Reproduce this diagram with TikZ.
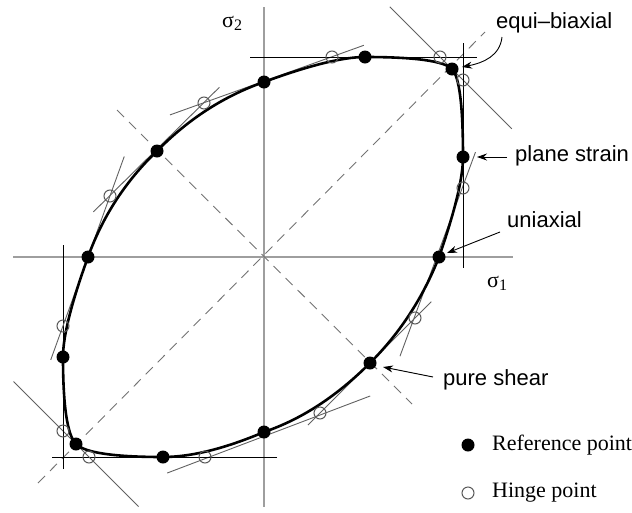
\documentclass[tikz,border=0pt]{standalone}
\usepackage{fontspec}
\setmainfont{Liberation Serif}
\newfontfamily\labfont{Liberation Sans}
\usetikzlibrary{arrows.meta,calc}
\newcommand\sigsub[1]{σ\raisebox{-0.35ex}{\fontsize{16}{16}\selectfont #1}}
\tikzset{
  axisline/.style={draw=black!38, line width=1.6pt},
  diagline/.style={draw=black!55, line width=0.9pt, dash pattern=on 10pt off 7pt},
  tanline/.style={draw=black, line width=0.7pt},
  tangray/.style={draw=black!62, line width=0.9pt},
  yieldcurve/.style={draw=black, line width=2.6pt, line join=round},
  refpt/.style={circle, fill=black, inner sep=0pt, minimum size=13pt},
  hingept/.style={circle, draw=black!65, line width=1pt, inner sep=0pt, minimum size=12pt},
  lbl/.style={font=\labfont\fontsize{22}{26}\selectfont, inner sep=0pt},
  leg/.style={font=\fontsize{22}{26}\selectfont, inner sep=0pt},
  siglbl/.style={font=\fontsize{22}{26}\selectfont, inner sep=0pt},
  note/.style={draw=black, line width=0.9pt, -{Stealth[length=10pt, width=7pt]}}
}
\begin{document}
\begin{tikzpicture}[x=1pt, y=-1pt]
\useasboundingbox (0,0) rectangle (632,512);
% axes
\coordinate (axL) at (13,257); \coordinate (axR) at (513,257);
\coordinate (axT) at (264,7);  \coordinate (axB) at (264,507);
\draw[axisline] (axL) -- (axR);
\draw[axisline] (axT) -- (axB);
% dashed diagonals
\coordinate (d1a) at (38,483); \coordinate (d1b) at (485,32);
\coordinate (d2a) at (117,110); \coordinate (d2b) at (412,404);
\draw[diagline] (d1a) -- (d1b);
\draw[diagline] (d2a) -- (d2b);
% reference points
\coordinate (R1) at (439,257);
\coordinate (R2) at (370,363);
\coordinate (R3) at (264,432);
\coordinate (R4) at (163,457);
\coordinate (R5) at (76,444);
\coordinate (R6) at (63,357);
\coordinate (R7) at (88,257);
\coordinate (R8) at (157,151);
\coordinate (R9) at (264,82);
\coordinate (R10) at (365,57);
\coordinate (R11) at (452,69);
\coordinate (R12) at (463,157);
% hinge points (tangent intersections)
\coordinate (H1) at (415,318);
\coordinate (H2) at (320,413);
\coordinate (H3) at (205,457);
\coordinate (H4) at (89,457);
\coordinate (H5) at (63,431);
\coordinate (H6) at (63,326);
\coordinate (H7) at (110,196);
\coordinate (H8) at (204,103);
\coordinate (H9) at (332,57);
\coordinate (H10) at (440,57);
\coordinate (H11) at (463,80);
\coordinate (H12) at (463,188);
% tangent lines at the reference points
\foreach \r/\p/\n/\a/\b/\s in {
  R1/H12/H1/38pt/41pt/tangray, R2/H1/H2/23pt/17pt/tangray,
  R3/H2/H3/53pt/41pt/tangray,  R4/H3/H4/72pt/37pt/tanline,
  R5/H4/H5/70pt/70pt/tangray,  R6/H5/H6/38pt/81pt/tanline,
  R7/H6/H7/36pt/42pt/tangray,  R8/H7/H8/23pt/22pt/tangray,
  R9/H8/H9/36pt/34pt/tangray,  R10/H9/H10/82pt/37pt/tanline,
  R11/H10/H11/71pt/69pt/tangray, R12/H11/H12/37pt/80pt/tanline}
  \draw[\s] ($(\p)!-\a!(\r)$) -- ($(\n)!-\b!(\r)$);
% yield locus: quadratic Bezier segments with hinge points as control points
\draw[yieldcurve]
  (R1) .. controls ($(R1)!2/3!(H1)$) and ($(R2)!2/3!(H1)$) .. (R2)
       .. controls ($(R2)!2/3!(H2)$) and ($(R3)!2/3!(H2)$) .. (R3)
       .. controls ($(R3)!2/3!(H3)$) and ($(R4)!2/3!(H3)$) .. (R4)
       .. controls ($(R4)!2/3!(H4)$) and ($(R5)!2/3!(H4)$) .. (R5)
       .. controls ($(R5)!2/3!(H5)$) and ($(R6)!2/3!(H5)$) .. (R6)
       .. controls ($(R6)!2/3!(H6)$) and ($(R7)!2/3!(H6)$) .. (R7)
       .. controls ($(R7)!2/3!(H7)$) and ($(R8)!2/3!(H7)$) .. (R8)
       .. controls ($(R8)!2/3!(H8)$) and ($(R9)!2/3!(H8)$) .. (R9)
       .. controls ($(R9)!2/3!(H9)$) and ($(R10)!2/3!(H9)$) .. (R10)
       .. controls ($(R10)!2/3!(H10)$) and ($(R11)!2/3!(H10)$) .. (R11)
       .. controls ($(R11)!2/3!(H11)$) and ($(R12)!2/3!(H11)$) .. (R12)
       .. controls ($(R12)!2/3!(H12)$) and ($(R1)!2/3!(H12)$) .. (R1) -- cycle;
% markers
\foreach \p in {R1,R2,R3,R4,R5,R6,R7,R8,R9,R10,R11,R12}
  \node[refpt] (n\p) at (\p) {};
\foreach \p in {H1,H2,H3,H4,H5,H6,H7,H8,H9,H10,H11,H12}
  \node[hingept] (n\p) at (\p) {};
% axis labels
\node[siglbl, anchor=base west] (sig2) at (222,27) {\sigsub{2}};
\node[siglbl, anchor=base west] (sig1) at (487,287) {\sigsub{1}};
% annotations
\node[lbl, anchor=base west] (teq) at (496,28) {equi–biaxial};
\node[lbl, anchor=base west] (tps) at (515,161) {plane strain};
\node[lbl, anchor=base west] (tun) at (507,227) {uniaxial};
\node[lbl, anchor=base west] (tsh) at (443,385) {pure shear};
\coordinate (aeq0) at (502,37);  \coordinate (aeq1) at (462,67);
\coordinate (aps0) at (507,157); \coordinate (aps1) at (477,157);
\coordinate (aun0) at (500,232); \coordinate (aun1) at (447,253);
\coordinate (ash0) at (433,377); \coordinate (ash1) at (383,367);
\draw[note] (aeq0) .. controls (500,56) and (483,63) .. (aeq1);
\draw[note] (aps0) -- (aps1);
\draw[note] (aun0) -- (aun1);
\draw[note] (ash0) -- (ash1);
% legend
\node[refpt] (legR) at (468,445) {};
\node[hingept] (legH) at (468,493) {};
\node[leg, anchor=west] (legRt) at (492,445) {Reference point};
\node[leg, anchor=west] (legHt) at (492,493) {Hinge point};
\end{tikzpicture}
\end{document}
